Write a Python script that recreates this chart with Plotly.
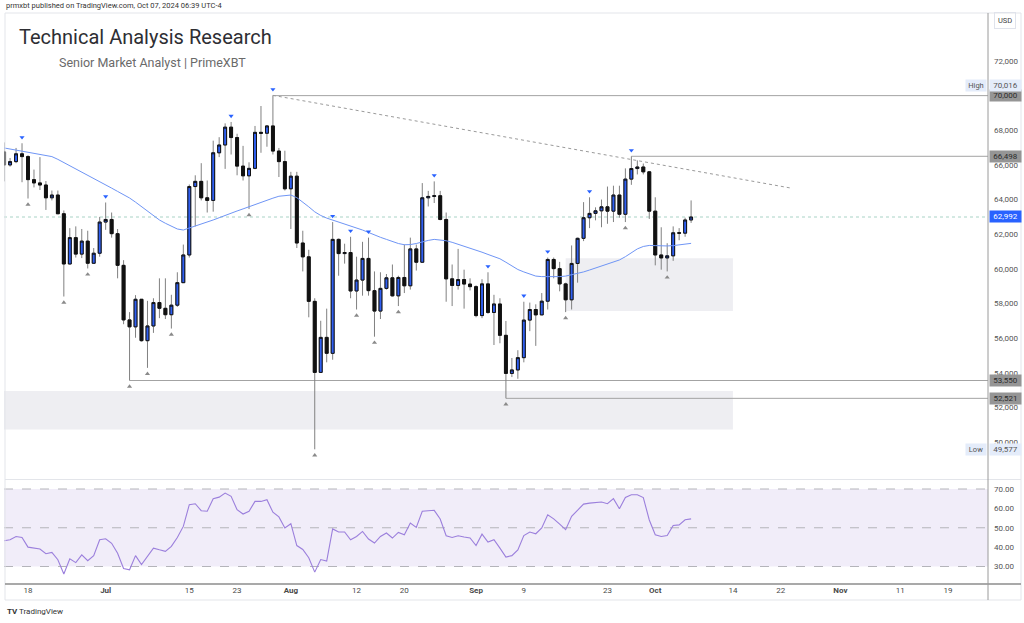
import plotly.graph_objects as go
import pandas as pd

# ---------------- data ----------------
start_date = "2024-06-14"
opens = [66750, 66000, 66190, 66640, 66480, 65150, 64960, 64840, 64100, 64260,
         63180, 60280, 61800, 60850, 61600, 60320, 60900, 62700, 62850, 62030,
         60200, 57050, 56650, 58240, 55850, 56700, 58050, 57720, 57350, 57900,
         59200, 60800, 64750, 65050, 64100, 63950, 66700, 67150, 68180, 67580,
         65930, 65370, 65800, 67880, 67830, 68250, 66800, 66190, 64620, 65350,
         61490, 60690, 58120, 54020, 56040, 55120, 61700, 60880, 60940, 58720,
         59350, 60600, 58740, 57560, 58870, 59480, 58440, 59500, 59020, 61150,
         60380, 64100, 64180, 64220, 62850, 59420, 59040, 59380, 59120, 58970,
         57300, 59130, 57480, 57970, 56160, 53960, 54160, 54870, 57040, 57650,
         57340, 58130, 60540, 60010, 59130, 58210, 60310, 61760, 62950, 63200,
         63350, 63580, 63330, 64260, 63150, 65180, 65790, 65880, 65600, 63330,
         60800, 60630, 60750, 62080, 62060, 62820]
highs = [67300, 66400, 66980, 67250, 66560, 65730, 66450, 65070, 64520, 64520,
         63370, 62350, 62450, 62300, 62200, 61200, 63000, 63830, 63250, 62300,
         60500, 57500, 58480, 58240, 58150, 58300, 59450, 59450, 58500, 59800,
         61400, 64870, 65400, 66100, 65100, 67400, 67600, 68400, 68480, 67800,
         67100, 66150, 68250, 69400, 68300, 70016, 66980, 66820, 65600, 65600,
         62200, 61100, 58300, 57000, 57700, 62700, 61750, 61450, 61850, 60700,
         61560, 61800, 59850, 59800, 59700, 60250, 59600, 61400, 61800, 61400,
         64950, 64500, 65050, 64500, 63250, 60250, 61150, 59950, 59450, 59050,
         59400, 59800, 58500, 58300, 56990, 54850, 55300, 58100, 58050, 57950,
         58600, 60650, 60650, 60400, 59200, 61350, 61800, 63850, 64130, 63550,
         64000, 64750, 64800, 64800, 65800, 66498, 66260, 66080, 65650, 64130,
         62400, 61480, 62450, 62350, 62950, 63950]
lows = [65050, 65900, 66100, 65000, 64060, 64700, 64550, 63400, 63950, 63180,
        58400, 60260, 60650, 60620, 60020, 60320, 60700, 62250, 61800, 59450,
        56800, 53550, 56020, 55800, 54280, 56300, 57150, 57100, 56550, 57800,
        59200, 60650, 62450, 63950, 63250, 63300, 66450, 65770, 66600, 65400,
        65100, 63450, 65750, 66700, 67050, 66600, 65300, 64520, 62300, 61200,
        59850, 57200, 49577, 54000, 54600, 54750, 59600, 60300, 58300, 57650,
        58450, 58450, 56080, 57100, 58800, 58400, 57850, 58600, 58800, 59900,
        60350, 63600, 63800, 62800, 58100, 57850, 58800, 57700, 58750, 57200,
        57150, 57400, 55600, 55700, 52521, 53750, 53650, 54600, 56400, 55550,
        57350, 57650, 59450, 58700, 57500, 57650, 59200, 61600, 62350, 62800,
        62400, 62600, 62700, 62950, 62700, 64850, 65450, 65450, 62880, 60200,
        59950, 59850, 60460, 61650, 61850, 62650]
closes = [66000, 66190, 66640, 66480, 65150, 64960, 64840, 64100, 64260, 63180,
          60280, 61800, 60850, 61600, 60320, 60900, 62700, 62850, 62030, 60200,
          57050, 56650, 58240, 55850, 56700, 58050, 57720, 57350, 57900, 59200,
          60800, 64750, 65050, 64100, 63950, 66700, 67150, 68180, 67580, 65930,
          65370, 65800, 67880, 67830, 68250, 66800, 66190, 64620, 65350, 61490,
          60690, 58120, 54020, 56040, 55120, 61700, 60880, 60940, 58720, 59350,
          60600, 58740, 57560, 58870, 59480, 58440, 59500, 59020, 61150, 60380,
          64100, 64180, 64220, 62850, 59420, 59040, 59380, 59120, 58970, 57300,
          59130, 57480, 57970, 56160, 53960, 54160, 54870, 57040, 57650, 57340,
          58130, 60540, 60010, 59130, 58210, 60310, 61760, 62950, 63200, 63350,
          63580, 63330, 64260, 63150, 65180, 65790, 65880, 65600, 63330, 60800,
          60630, 60750, 62080, 62060, 62820, 62992]
moving_avg = [66980, 66920, 66860, 66800, 66740, 66680, 66620, 66560, 66480, 66320,
              66140, 65950, 65760, 65570, 65390, 65200, 65030, 64850, 64660, 64470,
              64280, 64090, 63850, 63590, 63330, 63080, 62820, 62630, 62450, 62300,
              62240, 62350, 62480, 62580, 62700, 62820, 62950, 63090, 63220, 63340,
              63460, 63590, 63720, 63840, 63960, 64080, 64190, 64240, 64260, 64110,
              63860, 63580, 63290, 63080, 62930, 62820, 62700, 62600, 62500, 62380,
              62240, 62100, 61950, 61820, 61700, 61580, 61460, 61390, 61400, 61460,
              61560, 61640, 61700, 61680, 61620, 61530, 61420, 61300, 61200, 61100,
              60960, 60830, 60700, 60580, 60380, 60170, 59960, 59820, 59700, 59580,
              59550, 59540, 59540, 59550, 59580, 59650, 59730, 59820, 59930, 60040,
              60160, 60270, 60390, 60510, 60700, 60920, 61150, 61290, 61350, 61340,
              61320, 61320, 61340, 61380, 61420, 61470]
rsi = [43.3, 43.8, 45.5, 45.0, 40.0, 39.5, 39.0, 36.6, 37.3, 33.5,
       26.1, 34.0, 32.0, 36.0, 33.0, 35.6, 43.8, 44.3, 42.0, 36.8,
       29.0, 28.3, 35.6, 31.0, 35.0, 39.5, 38.6, 37.8, 40.4, 45.0,
       50.7, 61.9, 62.4, 58.8, 58.5, 65.0, 65.8, 67.9, 66.2, 59.3,
       57.1, 58.5, 63.6, 63.6, 64.5, 58.0, 55.6, 49.9, 52.1, 40.8,
       38.8, 34.5, 27.1, 33.6, 32.8, 49.4, 47.8, 47.8, 43.8, 45.5,
       48.1, 44.2, 42.1, 45.5, 47.3, 44.7, 47.6, 46.4, 52.4, 50.2,
       58.5, 58.8, 59.0, 54.5, 45.9, 45.0, 45.9, 45.2, 44.7, 40.8,
       46.7, 42.6, 43.8, 39.5, 34.9, 35.6, 38.6, 46.0, 47.8, 46.9,
       49.9, 56.7, 54.6, 51.9, 49.0, 55.9, 59.3, 62.2, 62.7, 63.1,
       63.3, 62.4, 65.0, 59.8, 65.6, 67.0, 67.0, 65.6, 54.0, 46.4,
       45.5, 46.0, 51.2, 51.5, 54.1, 54.6]
pivot_high_idx = [3, 17, 38, 45, 55, 58, 61, 72, 81, 87, 91, 98, 105]
pivot_low_idx = [4, 10, 14, 21, 24, 28, 41, 52, 59, 62, 66, 84, 94, 104, 111]
levels = [70000, 66498, 53550, 52521]
level_start = ["2024-07-29", "2024-09-27", "2024-07-05", "2024-09-06"]
trend_x = ["2024-07-29", "2024-10-23 14:00"]
trend_y = [70016, 64670]
zones = [("2024-05-01", "2024-10-14", 50720, 52950),
         ("2024-09-16", "2024-10-14", 57570, 60610)]
x_tick_dates = ["2024-06-18", "2024-07-01", "2024-07-15", "2024-07-23", "2024-08-01",
                "2024-08-12", "2024-08-20", "2024-09-01", "2024-09-09", "2024-09-23",
                "2024-10-01", "2024-10-14", "2024-10-22", "2024-11-01", "2024-11-11",
                "2024-11-19"]
x_tick_text = ["18", "<b>Jul</b>", "15", "23", "<b>Aug</b>", "12", "20", "<b>Sep</b>",
               "9", "23", "<b>Oct</b>", "14", "22", "<b>Nov</b>", "11", "19"]
price_ticks = [50000, 52000, 54000, 56000, 58000, 60000, 62000, 64000, 66000, 68000, 70000, 72000]
rsi_ticks = [30, 40, 50, 60, 70]
rsi_band = [30, 70]
rsi_lines = [30, 50, 70]

dates = pd.date_range(start_date, periods=len(closes), freq="D")

# ---------------- layout geometry ----------------
W, H = 1024, 623
def px(x):
    return x / W
def py(y):
    return 1 - y / H

main_top, main_bot = 13, 479
rsi_top, rsi_bot = 480, 584
plot_left, plot_right = 4, 988
price_range = [47863, 74772]
rsi_range = [20.97, 74.65]
x_range = ["2024-06-13 23:36", "2024-11-25 16:48"]
px_per_price = (main_bot - main_top) / (price_range[1] - price_range[0])
mark_off = 6 / px_per_price

BLUE = "#2f5ff2"
FONT = "Roboto, Inter, 'Noto Sans', sans-serif"

fig = go.Figure()

# wicks (gray) + bodies (black outline)
fig.add_trace(go.Candlestick(
    x=dates, open=opens, high=highs, low=lows, close=closes,
    increasing=dict(line=dict(color="#808080", width=1), fillcolor=BLUE),
    decreasing=dict(line=dict(color="#808080", width=1), fillcolor="#111111"),
    whiskerwidth=0, showlegend=False, hoverinfo="skip", xaxis="x", yaxis="y"))
body_hi = [max(o, c) for o, c in zip(opens, closes)]
body_lo = [min(o, c) for o, c in zip(opens, closes)]
fig.add_trace(go.Candlestick(
    x=dates, open=opens, high=body_hi, low=body_lo, close=closes,
    increasing=dict(line=dict(color="#111111", width=1), fillcolor=BLUE),
    decreasing=dict(line=dict(color="#111111", width=1), fillcolor="#111111"),
    whiskerwidth=0, showlegend=False, hoverinfo="skip", xaxis="x", yaxis="y"))

# moving average
fig.add_trace(go.Scatter(x=dates, y=moving_avg, mode="lines",
                         line=dict(color="#6f95f5", width=1),
                         showlegend=False, hoverinfo="skip", xaxis="x", yaxis="y"))

# pivot markers
fig.add_trace(go.Scatter(x=[dates[i] for i in pivot_high_idx],
                         y=[highs[i] + mark_off for i in pivot_high_idx],
                         mode="markers", marker=dict(symbol="triangle-down", size=4.5, color="#2962ff"),
                         showlegend=False, hoverinfo="skip", xaxis="x", yaxis="y"))
fig.add_trace(go.Scatter(x=[dates[i] for i in pivot_low_idx],
                         y=[lows[i] - mark_off for i in pivot_low_idx],
                         mode="markers", marker=dict(symbol="triangle-up", size=4.5, color="#8a8a8a"),
                         showlegend=False, hoverinfo="skip", xaxis="x", yaxis="y"))

# RSI
fig.add_trace(go.Scatter(x=dates, y=rsi, mode="lines",
                         line=dict(color="#9b7fdc", width=1.1),
                         showlegend=False, hoverinfo="skip", xaxis="x", yaxis="y2"))

shapes = []
# zones
for x0, x1, y0, y1 in zones:
    shapes.append(dict(type="rect", xref="x", yref="y", x0=x0, x1=x1, y0=y0, y1=y1,
                       fillcolor="#eeeef2", line=dict(width=0), layer="below"))
# level lines
for lv, xs in zip(levels, level_start):
    shapes.append(dict(type="line", xref="x", yref="y", x0=xs, x1="2025-03-01", y0=lv, y1=lv,
                       line=dict(color="#a3a3a3", width=1), layer="below"))
# current price dotted
shapes.append(dict(type="line", xref="x domain", yref="y", x0=0, x1=1, y0=closes[-1], y1=closes[-1],
                   line=dict(color="#a9d3c6", width=1, dash="dot"), layer="below"))
# trend line
shapes.append(dict(type="line", xref="x", yref="y", x0=trend_x[0], x1=trend_x[1],
                   y0=trend_y[0], y1=trend_y[1], line=dict(color="#9a9a9a", width=1, dash="dot")))
# RSI band + dashed lines
shapes.append(dict(type="rect", xref="x domain", yref="y2", x0=0, x1=1, y0=rsi_band[0], y1=rsi_band[1],
                   fillcolor="#f1edf9", line=dict(width=0), layer="below"))
for v in rsi_lines:
    shapes.append(dict(type="line", xref="x domain", yref="y2", x0=0, x1=1, y0=v, y1=v,
                       line=dict(color="#b4b4ba", width=1, dash="dash"), layer="below"))
# frame lines (paper)
def hline(y, x0, x1, color, w=1):
    shapes.append(dict(type="line", xref="paper", yref="paper", x0=px(x0), x1=px(x1),
                       y0=py(y), y1=py(y), line=dict(color=color, width=w)))
def vline(x, y0, y1, color, w=1):
    shapes.append(dict(type="line", xref="paper", yref="paper", x0=px(x), x1=px(x),
                       y0=py(y0), y1=py(y1), line=dict(color=color, width=w)))
hline(13, 5, 1021, "#e3e5ea")
vline(5, 13, 600, "#e3e5ea")
vline(1021, 13, 600, "#e3e5ea")
hline(479.5, 5, 1021, "#e3e5ea")
hline(584, 5, 1021, "#8c8c8c", 1.5)
hline(600, 5, 1021, "#e3e5ea")
vline(988, 13, 600, "#9a9a9a", 1)

annotations = []
# header and titles
annotations.append(dict(xref="paper", yref="paper", x=px(4), y=py(5), xanchor="left", yanchor="middle",
                        text="prmxbt published on TradingView.com, Oct 07, 2024 06:39 UTC-4",
                        showarrow=False, font=dict(family=FONT, size=7.5, color="#333333")))
annotations.append(dict(xref="paper", yref="paper", x=px(17), y=py(37), xanchor="left", yanchor="middle",
                        text="Technical Analysis Research", showarrow=False,
                        font=dict(family=FONT, size=20, color="#2e2e33")))
annotations.append(dict(xref="paper", yref="paper", x=px(57), y=py(62), xanchor="left", yanchor="middle",
                        text="Senior Market Analyst | PrimeXBT", showarrow=False,
                        font=dict(family=FONT, size=12.5, color="#6a6a6a")))
annotations.append(dict(xref="paper", yref="paper", x=px(1005), y=py(21), xanchor="center", yanchor="middle",
                        text="USD", showarrow=False, bordercolor="#e0e3eb", borderwidth=1, borderpad=3,
                        font=dict(family=FONT, size=7.5, color="#444444")))
annotations.append(dict(xref="paper", yref="paper", x=px(5), y=py(611), xanchor="left", yanchor="middle",
                        text="<b>TV</b> TradingView", showarrow=False,
                        font=dict(family=FONT, size=8, color="#333333")))

def price_label(value, bg, fg, yshift=0):
    annotations.append(dict(xref="paper", yref="y", x=px(989), y=value, xanchor="left", yanchor="middle",
                            yshift=yshift, text=f"{value:,}", showarrow=False, bgcolor=bg, width=31,
                            height=11, align="center", borderpad=0,
                            font=dict(family=FONT, size=8, color=fg)))

def side_tag(value, text, yshift=0):
    annotations.append(dict(xref="paper", yref="y", x=px(987), y=value, xanchor="right", yanchor="middle",
                            yshift=yshift, text=text, showarrow=False, bgcolor="#e4ecfa", width=20,
                            height=11, align="center", borderpad=0,
                            font=dict(family=FONT, size=7.5, color="#555555")))

hi_val = max(highs)
lo_val = min(lows)
for lv in levels:
    price_label(lv, "#959595", "#2b2b2b")
price_label(hi_val, "#e4ecfa", "#555555", yshift=10)
side_tag(hi_val, "High", yshift=10)
price_label(lo_val, "#e4ecfa", "#555555")
side_tag(lo_val, "Low")
price_label(closes[-1], "#2962ff", "#ffffff")

fig.update_layout(
    width=W, height=H, margin=dict(l=0, r=0, t=0, b=0),
    paper_bgcolor="white", plot_bgcolor="white",
    hovermode=False, showlegend=False, boxgap=0.3,
    shapes=shapes, annotations=annotations,
    xaxis=dict(domain=[px(plot_left), px(plot_right)], anchor="y2", type="date", range=x_range,
               rangeslider=dict(visible=False), showgrid=False, zeroline=False, showline=False,
               tickmode="array", tickvals=x_tick_dates, ticktext=x_tick_text, ticks="",
               tickfont=dict(family=FONT, size=8, color="#4a4a4a")),
    yaxis=dict(domain=[py(main_bot), py(main_top)], anchor="x", side="right", range=price_range,
               showgrid=False, zeroline=False, showline=False, tickmode="array",
               tickvals=price_ticks, ticktext=[f"{v:,}" for v in price_ticks], ticks="",
               ticklabelstandoff=5, tickfont=dict(family=FONT, size=8, color="#555555")),
    yaxis2=dict(domain=[py(rsi_bot), py(rsi_top)], anchor="x", side="right", range=rsi_range,
                showgrid=False, zeroline=False, showline=False, tickmode="array",
                tickvals=rsi_ticks, ticktext=[f"{v:.2f}" for v in rsi_ticks], ticks="",
                ticklabelstandoff=5, tickfont=dict(family=FONT, size=8, color="#555555")),
)

fig.write_html("out.html")
